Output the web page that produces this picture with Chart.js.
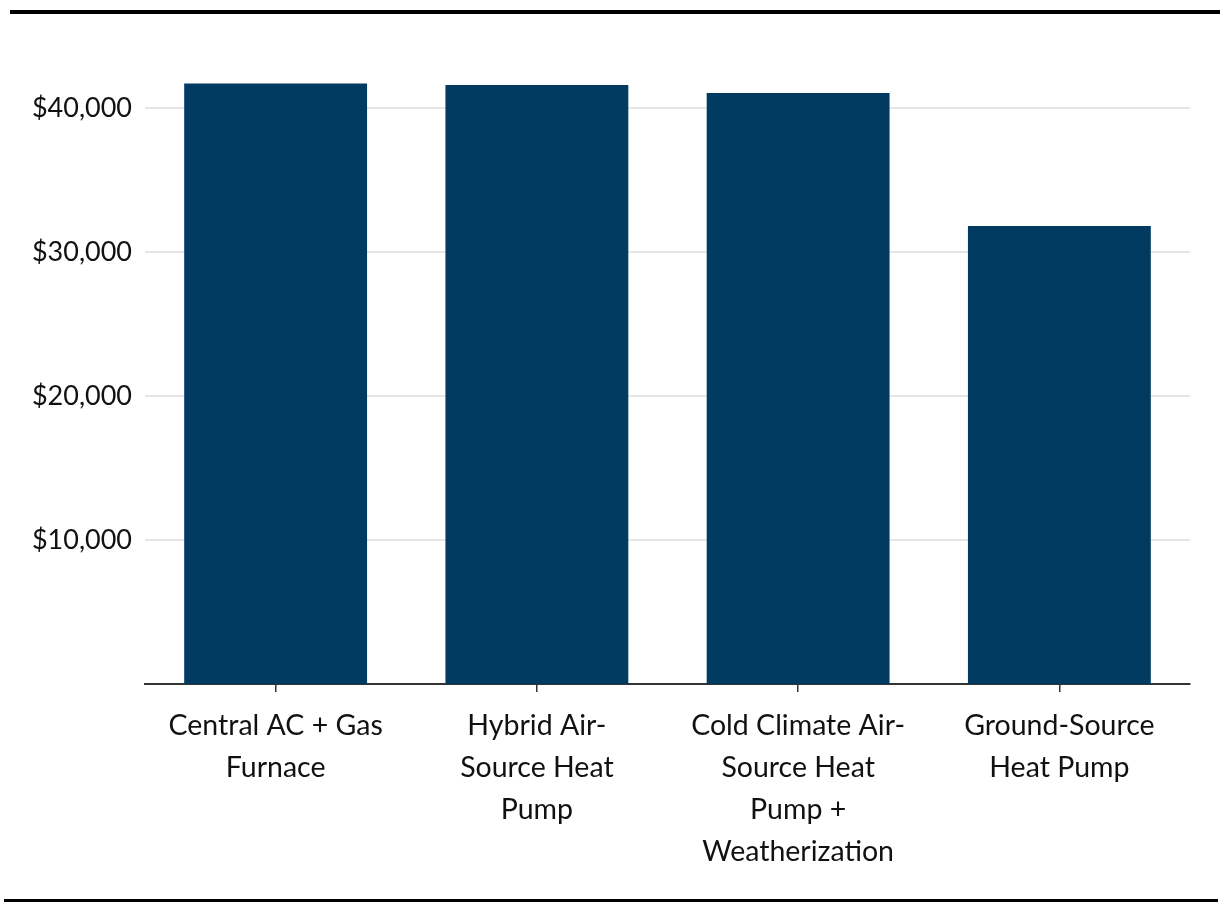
<!DOCTYPE html>
<html lang="en">
<head>
  <meta charset="UTF-8" />
  <title>Heating system cost</title>
  <script src="https://cdn.jsdelivr.net/npm/chart.js"></script>
  <style>
    body { margin: 0; padding: 0; background: #fff; }
    .wrap { position: relative; width: 1220px; height: 912px; }
    .rule { position: absolute; background: #000; }
    .rule.top { left: 10px; right: 0; top: 10px; height: 4px; }
    .rule.bottom { left: 4px; right: 2px; top: 899px; height: 3px; }
    canvas { position: absolute; left: 0; top: 0; }
  </style>
</head>
<body>
  <div class="wrap">
    <div class="rule top"></div>
    <canvas id="chart" width="1220" height="912"></canvas>
    <div class="rule bottom"></div>
  </div>

  <script>
    const categories = [
      ["Central AC + Gas", "Furnace"],
      ["Hybrid Air-", "Source Heat", "Pump"],
      ["Cold Climate Air-", "Source Heat", "Pump +", "Weatherization"],
      ["Ground-Source", "Heat Pump"]
    ];
    const costs = [41700, 41600, 41050, 31800];
    const yTicks = [10000, 20000, 30000, 40000];

    const fontFamily = "Lato, 'Noto Sans', sans-serif";

    new Chart(document.getElementById("chart"), {
      type: "bar",
      data: {
        labels: categories,
        datasets: [{
          data: costs,
          backgroundColor: "#023b62",
          categoryPercentage: 0.7,
          barPercentage: 1.0
        }]
      },
      options: {
        responsive: false,
        animation: false,
        layout: { padding: { top: 36, right: 30, left: 0, bottom: 0 } },
        plugins: { legend: { display: false }, tooltip: { enabled: false } },
        scales: {
          x: {
            grid: { offset: false, drawOnChartArea: false, tickLength: 8, color: "#333", lineWidth: 1.5 },
            border: { color: "#333", width: 2 },
            ticks: {
              color: "#111",
              padding: 13,
              maxRotation: 0,
              font: { family: fontFamily, size: 28.5, lineHeight: 42 / 28.5 }
            },
            afterFit: s => { s.height = 228; }
          },
          y: {
            min: 0,
            max: 45000,
            border: { display: false },
            grid: { color: "#e6e6e6", lineWidth: 2, drawTicks: false },
            afterBuildTicks: s => { s.ticks = yTicks.map(v => ({ value: v })); },
            afterFit: s => { s.width = 145; },
            ticks: {
              color: "#111",
              padding: 13,
              font: { family: fontFamily, size: 27 },
              callback: v => "$" + v.toLocaleString("en-US")
            }
          }
        }
      }
    });
  </script>
</body>
</html>
